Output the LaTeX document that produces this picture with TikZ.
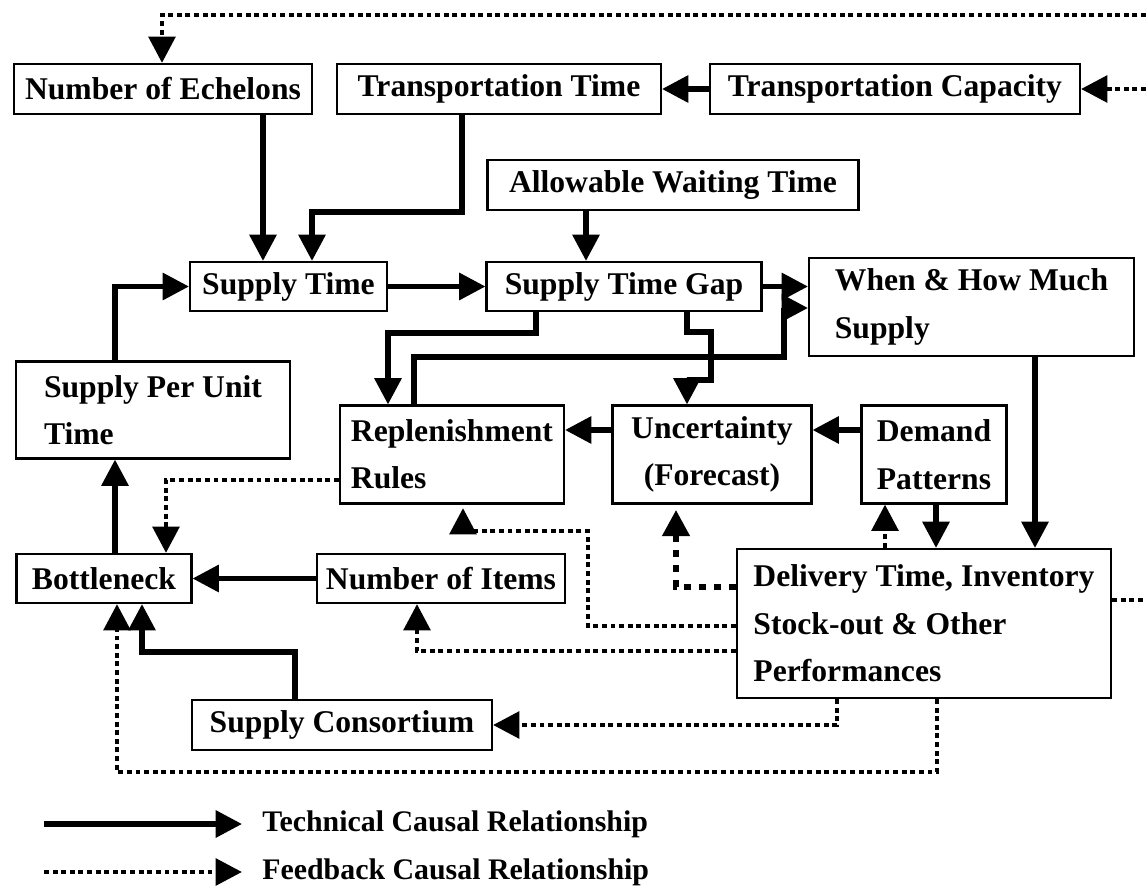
\documentclass[tikz,border=0pt]{standalone}
\usepackage{fontspec}
\setmainfont{Liberation Serif}
\usetikzlibrary{arrows.meta,positioning,calc}
\tikzset{
  % box
	cstbox/.style    ={draw=black, line width=1.2pt, inner sep=0pt, font=\bfseries\fontsize{18}{27}\selectfont},
	cstlegend/.style ={anchor=west, inner sep=0pt, font=\bfseries\fontsize{17}{20}\selectfont},
  % arrow
	csttech/.style   ={-{Triangle[length=15pt,width=15pt]}, line width=3pt}, % technical causal
	cstfeed/.style   ={-{Triangle[length=15pt,width=15pt]}, line width=2.8pt, dash pattern=on 2.8pt off 2.1pt}, % feedback
	cstfeedb/.style  ={-{Triangle[length=15pt,width=15pt]}, line width=3.6pt, dash pattern=on 4pt off 4.5pt}
}
\begin{document}
\begin{tikzpicture}[x=0.02cm,y=-0.02cm]
	\useasboundingbox (0,0) rectangle (1146,888);
	% boxes
	\node[cstbox, minimum width=5.96cm, minimum height=1cm] (echelon) at (163,89) {Number of Echelons};
	\node[cstbox, minimum width=6.48cm, minimum height=1cm] (transtime) at (499,89) {Transportation Time};
	\node[cstbox, minimum width=7.4cm, minimum height=1cm] (transcap) at (895,89) {Transportation Capacity};
	\node[cstbox, minimum width=7.42cm, minimum height=1cm] (waiting) at (673,185) {Allowable Waiting Time};
	\node[cstbox, minimum width=3.94cm, minimum height=0.98cm] (supplytime) at (288.5,286.5) {Supply Time};
	\node[cstbox, minimum width=5.5cm, minimum height=0.98cm] (gap) at (624,286.5) {Supply Time Gap};
	\node[cstbox, minimum width=6.5cm, minimum height=1.96cm, align=left] (whenmuch) at (971.5,307) {When \& How Much\\Supply};
	\node[cstbox, minimum width=5.48cm, minimum height=1.94cm, align=left] (perunit) at (153,410) {Supply Per Unit\\Time};
	\node[cstbox, minimum width=4.48cm, minimum height=1.96cm, align=left] (replenish) at (452,454.5) {Replenishment\\Rules};
	\node[cstbox, minimum width=3.98cm, minimum height=1.96cm, align=center] (uncert) at (712,454.5) {Uncertainty\\(Forecast)};
	\node[cstbox, minimum width=2.9cm, minimum height=1.96cm, align=left] (demand) at (934,454.5) {Demand\\Patterns};
	\node[cstbox, minimum width=3.5cm, minimum height=0.98cm] (bottle) at (104,578.5) {Bottleneck};
	\node[cstbox, minimum width=4.96cm, minimum height=0.98cm] (items) at (441,578.5) {Number of Items};
	\node[cstbox, minimum width=7.48cm, minimum height=2.98cm, align=left] (delivery) at (924,623.5) {Delivery Time, Inventory\\Stock-out \& Other\\Performances};
	\node[cstbox, minimum width=6cm, minimum height=1cm] (consort) at (342,725) {Supply Consortium};
	% technical
	\draw[csttech] (transcap) -- (transtime);
	\draw[csttech] (echelon.south -| 263,0) -- (supplytime.north -| 263,0);
	\draw[csttech] (transtime.south -| 462,0) -- (462,212) -| (supplytime.north -| 312,0);
	\draw[csttech] (waiting.south -| 586,0) -- (gap.north -| 586,0);
	\draw[csttech] (supplytime) -- (gap);
	\draw[csttech] (gap.east) -- (gap.east -| whenmuch.west);
	\draw[csttech] (perunit.north -| 115,0) |- (supplytime.west);
	\draw[csttech] (gap.south -| 536,0) -- (536,333) -| (replenish.north -| 388,0);
	\draw[csttech] (replenish.north -| 414,0) |- (784,357) |- (whenmuch.west |- 0,308);
	\draw[csttech] (gap.south -| 687,0) -- (687,332) -- (711,332) -- (711,380) -- (687,380) -- (uncert.north -| 687,0);
	\draw[csttech] (uncert.west |- 0,430) -- (replenish.east |- 0,430);
	\draw[csttech] (demand.west |- 0,430) -- (uncert.east |- 0,430);
	\draw[csttech] (whenmuch.south -| 1035,0) -- (delivery.north -| 1035,0);
	\draw[csttech] (demand.south -| 936,0) -- (delivery.north -| 936,0);
	\draw[csttech] (items) -- (bottle);
	\draw[csttech] (bottle.north -| 115,0) -- (perunit.south -| 115,0);
	\draw[csttech] (consort.north -| 295,0) |- (142,652) -- (bottle.south -| 142,0);
	% feedback
	\coordinate (topR) at (1146,15);
	\coordinate (capR) at (1146,89);
	\coordinate (delR) at (1146,600);
	\draw[cstfeed] (topR) -| (echelon.north -| 162,0);
	\draw[cstfeed] (capR) -- (transcap.east);
	\draw[cstfeed,-] (delivery.east |- 0,600) -- (delR);
	\draw[cstfeed] (delivery.north -| 885,0) -- (demand.south -| 885,0);
	\draw[cstfeedb,shorten >=3pt] (delivery.west |- 0,587) -| (uncert.south -| 676,0);
	\draw[cstfeed] (delivery.west |- 0,626) -| (588,531) -- (463,531) -- ([yshift=-2pt]replenish.south -| 463,0);
	\draw[cstfeed] (delivery.west |- 0,651) -| (items.south -| 417,0);
	\draw[cstfeed] (replenish.west |- 0,480) -| (bottle.north -| 166,0);
	\draw[cstfeed] (delivery.south -| 837,0) |- (consort.east);
	\draw[cstfeed] (delivery.south -| 937,0) -- (937,772) -| (bottle.south -| 117,0);
	% legend
	\coordinate (techA) at (44,824);
	\coordinate (techB) at (242,824);
	\coordinate (feedA) at (44,872);
	\coordinate (feedB) at (242,872);
	\draw[csttech] (techA) -- (techB);
	\draw[cstfeed] (feedA) -- (feedB);
	\node[cstlegend] (techtxt) at (262,824) {Technical Causal Relationship};
	\node[cstlegend] (feedtxt) at (262,872) {Feedback Causal Relationship};
\end{tikzpicture}
\end{document}
